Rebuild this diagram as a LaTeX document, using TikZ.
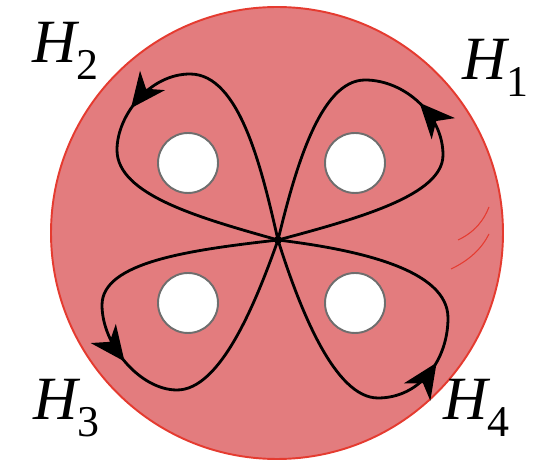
\documentclass[tikz,border=0pt]{standalone}
\usepackage{fontspec}
\usetikzlibrary{decorations.markings}
\newfontfamily\lblfont{Liberation Serif}
\newcommand{\hlab}[1]{{\itshape H}\raisebox{-9.6pt}{\fontsize{25}{25}\selectfont #1}}
\definecolor{diskfill}{RGB}{227,124,126}
\definecolor{diskedge}{RGB}{229,59,48}
\definecolor{holeedge}{RGB}{110,110,110}

\begin{document}
\begin{tikzpicture}[x=0.02cm,y=-0.02cm,
  hole/.style={circle, draw=holeedge, fill=white, line width=1.1pt, minimum size=1.2cm, inner sep=0pt},
  loopline/.style={line width=1.6pt, line join=round},
  midarrow/.style={postaction={decorate}, decoration={markings,
    mark=at position #1 with {\fill (3pt,0pt) -- (-17pt,9pt) -- (-11pt,0pt) -- (-17pt,-9pt) -- cycle;}}},
  lbl/.style={anchor=base west, inner sep=0pt, font=\lblfont\fontsize{35}{40}\selectfont}]
\useasboundingbox (0,0) rectangle (545,462);
% disk with four holes
\draw[fill=diskfill, draw=diskedge, line width=1.1pt] (277,233) circle (226);
\foreach \x/\y [count=\i] in {355/163,188/163,188/303,355/303}
  \node[hole] (hole\i) at (\x,\y) {};
% scratches on the right
\draw[diskedge, line width=0.6pt] (458,240) .. controls (475,232) and (484,220) .. (489,207);
\draw[diskedge, line width=0.6pt] (451,269) .. controls (470,260) and (482,248) .. (489,234);
% base point and the four loops
\coordinate (c) at (278,240);
\draw[loopline, midarrow=0.49] (c) .. controls (360,218) and (443,195) .. (443,155)
  .. controls (443,115) and (405,80) .. (365,80) .. controls (320,80) and (295,170) .. (c);
\draw[loopline, midarrow=0.52] (c) .. controls (262,170) and (240,74) .. (190,74)
  .. controls (150,74) and (117,115) .. (117,150) .. controls (117,195) and (200,218) .. (c);
\draw[loopline, midarrow=0.50] (c) .. controls (190,250) and (102,262) .. (102,305)
  .. controls (102,345) and (140,390) .. (177,390) .. controls (220,390) and (255,305) .. (c);
\draw[loopline, midarrow=0.51] (c) .. controls (300,310) and (335,398) .. (378,398)
  .. controls (420,398) and (448,360) .. (448,318) .. controls (448,270) and (360,250) .. (c);
\fill (c) circle (4);
% labels
\node[lbl] (lab1) at (462,80) {\hlab{1}};
\node[lbl] (lab2) at (32,63) {\hlab{2}};
\node[lbl] (lab3) at (33,420) {\hlab{3}};
\node[lbl] (lab4) at (443,420) {\hlab{4}};
\end{tikzpicture}
\end{document}
